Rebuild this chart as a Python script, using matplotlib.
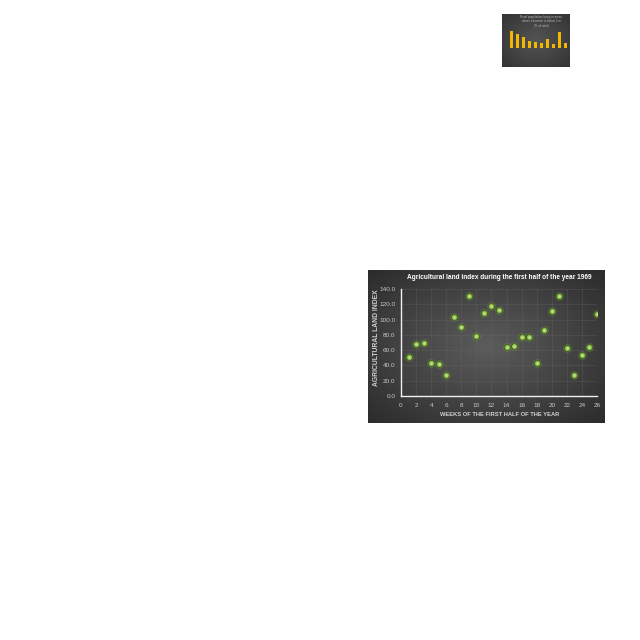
import numpy as np
import matplotlib
matplotlib.use("Agg")
import matplotlib.pyplot as plt

# ---- data ----
weeks = list(range(1, 27))
land_index = [51, 68, 69, 43, 42, 28, 104, 90, 131, 78, 109, 118, 112,
              64, 66, 77, 77, 43, 86, 111, 131, 63, 27, 54, 64, 107]
x_ticks = list(range(0, 27, 2))
y_ticks = [0, 20, 40, 60, 80, 100, 120, 140]
title = "Agricultural land index during the first half of the year 1969"
x_label = "WEEKS OF THE FIRST HALF OF THE YEAR"
y_label = "AGRICULTURAL LAND INDEX"

thumb_values = [1.0, 0.82, 0.65, 0.41, 0.35, 0.29, 0.53, 0.24, 0.94, 0.29]
thumb_title = "Rural population living in areas\nwhere elevation is below 5 m\n(% of total)"

W = H = 640
fig = plt.figure(figsize=(6.4, 6.4), dpi=100)
fig.patch.set_facecolor("white")
NARROW = ["Liberation Sans Narrow", "Liberation Sans", "DejaVu Sans"]
SANS = ["Liberation Sans", "DejaVu Sans"]

def rect(x0, y0, x1, y1):
    return [x0 / W, 1 - y1 / H, (x1 - x0) / W, (y1 - y0) / H]

def gradient_bg(ax, inner=0.36, outer=0.17):
    yy, xx = np.mgrid[-1:1:200j, -1:1:300j]
    r = np.sqrt(xx**2 + yy**2) / np.sqrt(2)
    g = inner + (outer - inner) * r
    img = np.dstack([g, g, g])
    ax.imshow(img, extent=[0, 1, 0, 1], aspect="auto", interpolation="bilinear")
    ax.set_xlim(0, 1); ax.set_ylim(0, 1)
    ax.axis("off")

renderer = fig.canvas.get_renderer()

def fit_width(t, target_px, vertical=False):
    bb = t.get_window_extent(renderer)
    cur = bb.height if vertical else bb.width
    t.set_fontsize(t.get_fontsize() * target_px / cur)

# ---- main scatter chart background ----
bg = fig.add_axes(rect(368, 270, 605, 423))
gradient_bg(bg)
tt = bg.text((406 + 593) / 2 / W, 1 - 277.5 / H, title, color="white", fontsize=5,
             fontweight="bold", family=SANS, ha="center", va="center",
             transform=fig.transFigure)
fit_width(tt, 187)

ax = fig.add_axes(rect(401, 289, 597, 396))
ax.set_facecolor("none")
ax.scatter(weeks, land_index, s=40, color="#9ccc5e", alpha=0.22, linewidths=0, zorder=2)
ax.scatter(weeks, land_index, s=19, color="#8fbf4c", edgecolors="#45631f",
           linewidths=0.7, zorder=3)
ax.scatter(weeks, land_index, s=4, color="#b9e08a", linewidths=0, zorder=4)
ax.set_xlim(0, 26)
ax.set_ylim(0, 140)
ax.set_xticks(x_ticks)
ax.set_yticks(y_ticks)
ax.set_yticklabels([f"{v:.1f}" for v in y_ticks])
ax.tick_params(colors="#c8c8c8", labelsize=4.6, length=0)
ax.tick_params(axis="x", pad=5)
ax.tick_params(axis="y", pad=4)
for lab in ax.get_xticklabels() + ax.get_yticklabels():
    lab.set_family(SANS)
for s in ["top", "right"]:
    ax.spines[s].set_visible(False)
for s in ["left", "bottom"]:
    ax.spines[s].set_color("#f0f0f0")
    ax.spines[s].set_linewidth(1.0)
ax.grid(True, color="#6a6a6a", linewidth=0.4, alpha=0.5)
ax.set_axisbelow(True)

xl = fig.text((440 + 559) / 2 / W, 1 - 415 / H, x_label, color="#d0d0d0",
              fontsize=5, family=NARROW, fontweight="bold", ha="center", va="center")
fit_width(xl, 122)
yl = fig.text(376 / W, 1 - ((290 + 385) / 2) / H, y_label, color="#d0d0d0",
              fontsize=5, family=NARROW, fontweight="bold", ha="center", va="center",
              rotation=90)
fit_width(yl, 97, vertical=True)

# ---- thumbnail bar chart ----
tb = fig.add_axes(rect(502, 14, 570, 67))
gradient_bg(tb, inner=0.33, outer=0.2)
fig.text(541 / W, 1 - 21.5 / H, thumb_title, color="#b8b8b8", fontsize=2.2,
         family=SANS, ha="center", va="center", linespacing=1.1)
ta = fig.add_axes(rect(508, 31, 569, 48))
ta.set_facecolor("none")
ta.bar(range(len(thumb_values)), thumb_values, width=0.5, color="#f2b705")
ta.set_ylim(0, 1)
ta.set_xlim(-0.5, len(thumb_values) - 0.5)
ta.axis("off")

fig.savefig("out.png", dpi=100, facecolor="white")
